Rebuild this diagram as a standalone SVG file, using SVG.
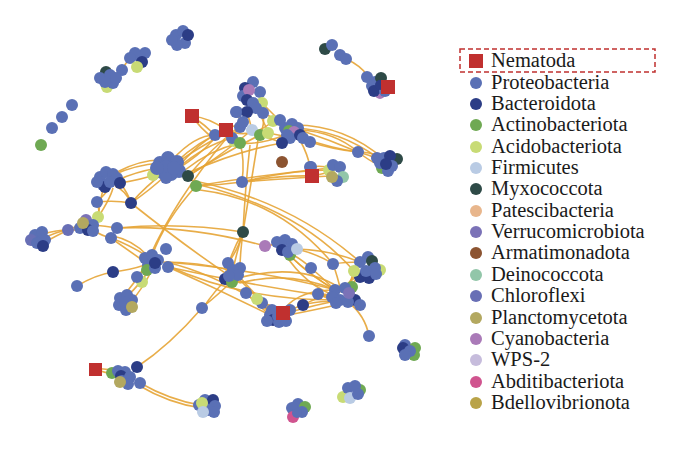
<svg xmlns="http://www.w3.org/2000/svg" width="680" height="461" viewBox="0 0 680 461">
<style>
.e{fill:none;stroke:#e6a435;stroke-width:1.6;opacity:.9}
circle{stroke:none}
.P{fill:#5a70b5}.B{fill:#2c3d86}.A{fill:#6fa953}.C{fill:#c8db75}.F{fill:#b9cbe4}.M{fill:#2e4a47}
.T{fill:#e8b68c}.V{fill:#7b72b7}.R{fill:#8c5431}.D{fill:#92c6a9}.K{fill:#686fb5}.L{fill:#b3a860}
.Y{fill:#aa7ab8}.W{fill:#c6bcdc}.X{fill:#d0548f}.O{fill:#b9a348}.N{fill:#c0302f}
.lg{font-family:"Liberation Serif","Times New Roman",serif;font-size:20.5px;fill:#1a1a1a}
</style>
<rect width="680" height="461" fill="#fff"/>
<g id="edges">
<path class="e" d="M175,163 Q200,140 226,130"/><path class="e" d="M178,168 Q205,145 232,138"/>
<path class="e" d="M180,165 Q205,135 237,125"/><path class="e" d="M172,160 Q195,135 215,135"/>
<path class="e" d="M185,170 Q210,150 240,143"/><path class="e" d="M188,176 Q210,150 243,123"/>
<path class="e" d="M188,176 Q215,160 252,130"/><path class="e" d="M188,176 Q220,155 260,135"/>
<path class="e" d="M190,172 Q240,150 282,143"/><path class="e" d="M176,170 Q200,155 213,140"/>
<path class="e" d="M192,116 Q205,125 215,135"/><path class="e" d="M192,116 Q200,128 213,138"/><path class="e" d="M192,116 Q210,118 226,130"/>
<path class="e" d="M160,163 Q135,165 113,175"/><path class="e" d="M158,168 Q135,172 118,180"/><path class="e" d="M165,172 Q140,180 120,183"/><path class="e" d="M160,160 Q140,160 117,172"/>
<path class="e" d="M115,186 Q125,190 131,203"/><path class="e" d="M120,183 Q128,193 131,203"/><path class="e" d="M110,188 Q104,195 97,202"/>
<path class="e" d="M97,202 Q115,200 131,203"/><path class="e" d="M131,203 Q150,190 165,176"/><path class="e" d="M131,203 Q190,250 240,283"/>
<path class="e" d="M98,217 Q100,200 104,185"/><path class="e" d="M93,225 Q110,200 113,188"/><path class="e" d="M98,217 Q100,210 97,202"/>
<path class="e" d="M93,225 Q105,226 117,228"/><path class="e" d="M93,230 Q102,236 111,238"/>
<path class="e" d="M68,230 Q55,232 45,238"/><path class="e" d="M68,230 Q56,236 45,242"/><path class="e" d="M68,230 Q57,230 43,234"/>
<path class="e" d="M68,230 Q78,226 83,223"/><path class="e" d="M68,230 Q78,230 86,230"/>
<path class="e" d="M117,228 Q180,222 243,232"/><path class="e" d="M117,228 Q190,225 265,246"/>
<path class="e" d="M111,238 Q130,245 150,258"/><path class="e" d="M113,236 Q133,240 148,256"/><path class="e" d="M108,236 Q128,250 145,262"/>
<path class="e" d="M166,262 Q220,275 278,315"/><path class="e" d="M168,267 Q220,290 270,315"/><path class="e" d="M160,262 Q200,262 228,270"/>
<path class="e" d="M168,267 Q250,285 332,297"/><path class="e" d="M166,262 Q260,270 336,290"/><path class="e" d="M166,265 Q240,300 335,300"/>
<path class="e" d="M150,268 Q140,285 127,296"/><path class="e" d="M153,268 Q142,290 132,300"/><path class="e" d="M146,266 Q135,282 122,298"/>
<path class="e" d="M113,272 Q130,270 145,265"/><path class="e" d="M77,286 Q95,275 113,272"/><path class="e" d="M137,277 Q142,270 147,268"/>
<path class="e" d="M250,145 Q245,190 243,232"/><path class="e" d="M258,140 Q250,190 243,232"/>
<path class="e" d="M225,140 Q175,200 150,256"/><path class="e" d="M196,186 Q165,220 152,256"/><path class="e" d="M213,140 Q160,170 131,203"/>
<path class="e" d="M300,140 Q308,155 310,167"/><path class="e" d="M311,167 Q320,165 333,168"/><path class="e" d="M312,176 Q322,174 330,172"/>
<path class="e" d="M242,182 Q290,170 333,170"/><path class="e" d="M242,182 Q290,178 330,176"/><path class="e" d="M196,186 Q260,175 330,168"/><path class="e" d="M242,182 Q245,160 240,143"/>
<path class="e" d="M196,186 Q220,185 242,182"/><path class="e" d="M242,182 Q280,175 312,176"/>
<path class="e" d="M300,130 Q330,140 358,152"/><path class="e" d="M300,130 Q335,132 358,152"/><path class="e" d="M303,138 Q330,148 358,152"/><path class="e" d="M310,142 Q335,150 358,152"/>
<path class="e" d="M358,152 Q370,155 380,160"/><path class="e" d="M358,152 Q368,160 382,167"/><path class="e" d="M358,152 Q370,152 378,156"/>
<path class="e" d="M295,128 Q340,130 378,158"/><path class="e" d="M295,125 Q345,125 385,160"/>
<path class="e" d="M200,190 Q280,200 333,264"/><path class="e" d="M190,180 Q290,200 360,262"/><path class="e" d="M200,185 Q300,210 354,271"/>
<path class="e" d="M243,232 Q238,250 228,263"/><path class="e" d="M243,232 Q236,255 233,270"/><path class="e" d="M243,232 Q240,255 240,268"/><path class="e" d="M243,232 Q232,250 225,275"/>
<path class="e" d="M228,278 Q215,290 203,308"/><path class="e" d="M233,280 Q218,295 205,305"/><path class="e" d="M202,308 Q170,345 137,367"/>
<path class="e" d="M238,275 Q255,295 272,310"/><path class="e" d="M240,280 Q260,300 270,315"/><path class="e" d="M246,293 Q258,305 270,315"/><path class="e" d="M257,300 Q265,308 272,312"/>
<path class="e" d="M240,283 Q290,270 335,290"/><path class="e" d="M238,278 Q300,262 340,288"/>
<path class="e" d="M292,254 Q305,262 311,268"/><path class="e" d="M297,249 Q320,255 333,264"/><path class="e" d="M288,254 Q310,275 335,290"/><path class="e" d="M290,256 Q315,280 340,292"/><path class="e" d="M285,254 Q305,285 336,296"/>
<path class="e" d="M297,249 Q330,250 360,262"/><path class="e" d="M311,268 Q325,280 335,290"/><path class="e" d="M333,264 Q338,278 340,288"/><path class="e" d="M333,264 Q345,262 360,262"/>
<path class="e" d="M360,270 Q350,280 345,288"/><path class="e" d="M365,272 Q352,282 348,290"/><path class="e" d="M358,275 Q348,283 340,292"/><path class="e" d="M354,271 Q350,280 350,290"/>
<path class="e" d="M318,294 Q325,293 332,297"/><path class="e" d="M318,294 Q327,298 336,302"/>
<path class="e" d="M303,305 Q320,300 336,302"/><path class="e" d="M303,305 Q320,296 335,293"/><path class="e" d="M290,310 Q297,307 303,305"/>
<path class="e" d="M290,312 Q315,305 340,300"/><path class="e" d="M288,315 Q315,310 345,303"/><path class="e" d="M285,308 Q300,290 335,290"/>
<path class="e" d="M348,302 Q365,315 369,336"/><path class="e" d="M262,303 Q272,305 280,310"/>
<path class="e" d="M265,246 Q275,244 282,245"/><path class="e" d="M332,45 Q328,47 325,49"/><path class="e" d="M346,59 Q360,65 368,76"/><path class="e" d="M340,55 Q344,58 346,59"/>
<path class="e" d="M95,369 Q105,368 118,372"/><path class="e" d="M95,369 Q108,374 112,373"/>
<path class="e" d="M140,383 Q170,400 200,405"/><path class="e" d="M138,385 Q170,404 202,408"/>
<path class="e" d="M130,58 Q125,64 122,70"/><path class="e" d="M122,70 Q115,75 110,78"/>
<path class="e" d="M237,112 Q240,122 243,123"/><path class="e" d="M247,112 Q250,122 252,130"/><path class="e" d="M263,113 Q265,125 260,135"/><path class="e" d="M263,113 Q272,118 280,120"/>
<path class="e" d="M252,103 Q262,115 268,133"/><path class="e" d="M262,103 Q275,115 285,128"/><path class="e" d="M256,108 Q240,120 232,138"/>
<path class="e" d="M268,133 Q280,135 290,138"/><path class="e" d="M260,135 Q275,140 282,143"/><path class="e" d="M240,143 Q260,145 285,135"/><path class="e" d="M226,130 Q250,140 272,122"/>
</g>
<g id="nodes">
<g id="t1"><circle class="P" cx="176" cy="35" r="6"/><circle class="P" cx="183" cy="31" r="6"/><circle class="P" cx="185" cy="43" r="6"/><circle class="P" cx="177" cy="45" r="6"/><circle class="P" cx="172" cy="40" r="6"/><circle class="B" cx="188" cy="35" r="6"/></g>
<g id="t2"><circle class="P" cx="145" cy="53" r="6"/><circle class="P" cx="135" cy="53" r="6"/><circle class="P" cx="140" cy="57" r="6"/><circle class="P" cx="130" cy="58" r="6"/><circle class="B" cx="142" cy="62" r="6"/><circle class="C" cx="137" cy="67" r="6"/><circle class="P" cx="122" cy="70" r="6"/>
<circle class="M" cx="106" cy="72" r="6"/><circle class="C" cx="107" cy="87" r="6"/><circle class="P" cx="100" cy="78" r="6"/><circle class="P" cx="110" cy="75" r="6"/><circle class="P" cx="113" cy="83" r="6"/><circle class="P" cx="105" cy="82" r="6"/><circle class="P" cx="116" cy="78" r="6"/></g>
<g id="d1"><circle class="P" cx="72" cy="105" r="6"/></g><g id="d2"><circle class="P" cx="62" cy="117" r="6"/></g><g id="d3"><circle class="P" cx="52" cy="128" r="6"/></g><g id="d4"><circle class="A" cx="41" cy="145" r="6"/></g>
<g id="t3"><circle class="M" cx="325" cy="49" r="6"/><circle class="P" cx="332" cy="45" r="6"/><circle class="P" cx="340" cy="55" r="6"/><circle class="P" cx="346" cy="59" r="6"/><circle class="P" cx="367" cy="77" r="6"/>
<circle class="Y" cx="380" cy="94" r="5"/><circle class="P" cx="375" cy="82" r="6"/><circle class="M" cx="381" cy="78" r="6"/><circle class="P" cx="378" cy="88" r="6"/><circle class="P" cx="372" cy="86" r="6"/><circle class="B" cx="374" cy="91" r="6"/><circle class="P" cx="385" cy="91" r="6"/><circle class="B" cx="380" cy="85" r="5"/></g>
<g id="nem1"><rect class="N" x="381" y="80" width="14" height="14"/></g>
<g id="u1"><circle class="P" cx="253" cy="82" r="6"/><circle class="B" cx="245" cy="88" r="6"/><circle class="P" cx="260" cy="92" r="6"/><circle class="P" cx="243" cy="96" r="6"/><circle class="Y" cx="249" cy="90" r="6"/><circle class="C" cx="262" cy="103" r="6"/><circle class="B" cx="247" cy="100" r="6"/><circle class="P" cx="253" cy="103" r="6"/><circle class="P" cx="256" cy="108" r="6"/>
<circle class="P" cx="237" cy="112" r="6"/><circle class="B" cx="247" cy="112" r="6"/><circle class="P" cx="263" cy="113" r="6"/></g>
<g id="u2"><circle class="P" cx="215" cy="135" r="6"/><circle class="C" cx="234" cy="141" r="6"/><circle class="P" cx="232" cy="138" r="6"/><circle class="A" cx="240" cy="143" r="6"/><circle class="P" cx="240" cy="127" r="6"/><circle class="P" cx="243" cy="122" r="6"/><circle class="F" cx="252" cy="130" r="6"/><circle class="A" cx="260" cy="135" r="6"/><circle class="C" cx="268" cy="133" r="6"/><circle class="C" cx="273" cy="121" r="6"/><circle class="P" cx="236" cy="112" r="6"/></g>
<g id="nem2"><rect class="N" x="219" y="123" width="14" height="14"/></g>
<g id="nem3"><rect class="N" x="185" y="109" width="14" height="14"/></g>
<g id="u3"><circle class="P" cx="280" cy="120" r="6"/><circle class="P" cx="285" cy="128" r="6"/><circle class="P" cx="292" cy="124" r="6"/><circle class="A" cx="289" cy="131" r="6"/><circle class="P" cx="298" cy="128" r="6"/><circle class="Y" cx="294" cy="132" r="6"/><circle class="P" cx="290" cy="138" r="6"/><circle class="B" cx="300" cy="135" r="6"/><circle class="P" cx="303" cy="138" r="6"/><circle class="P" cx="287" cy="135" r="6"/><circle class="B" cx="282" cy="143" r="6"/><circle class="P" cx="310" cy="142" r="6"/></g>
<g id="arm"><circle class="R" cx="282" cy="162" r="6"/></g>
<g id="n310"><circle class="P" cx="310" cy="167" r="6"/></g>
<g id="r1"><circle class="P" cx="358" cy="152" r="6"/><circle class="P" cx="377" cy="158" r="6"/><circle class="M" cx="397" cy="159" r="6"/><circle class="P" cx="384" cy="158" r="6"/><circle class="B" cx="390" cy="156" r="6"/><circle class="A" cx="382" cy="168" r="6"/><circle class="P" cx="392" cy="166" r="6"/><circle class="P" cx="380" cy="163" r="6"/><circle class="P" cx="388" cy="171" r="6"/><circle class="B" cx="386" cy="164" r="6"/></g>
<g id="c1"><circle class="C" cx="329" cy="170" r="6"/><circle class="P" cx="333" cy="165" r="6"/><circle class="P" cx="340" cy="167" r="6"/><circle class="D" cx="343" cy="177" r="6"/><circle class="P" cx="337" cy="181" r="6"/><circle class="L" cx="332" cy="177" r="6"/><circle class="P" cx="311" cy="167" r="6"/></g>
<g id="nem4"><rect class="N" x="305" y="169" width="14" height="14"/></g>
<g id="n242"><circle class="P" cx="242" cy="182" r="6"/></g>
<g id="l1"><circle class="P" cx="160" cy="163" r="7"/><circle class="P" cx="168" cy="158" r="7"/><circle class="P" cx="177" cy="162" r="7"/><circle class="P" cx="179" cy="171" r="7"/><circle class="P" cx="171" cy="174" r="7"/><circle class="P" cx="162" cy="172" r="7"/><circle class="P" cx="166" cy="167" r="7"/><circle class="P" cx="174" cy="168" r="7"/><circle class="C" cx="153" cy="175" r="6"/><circle class="P" cx="157" cy="168" r="7"/><circle class="P" cx="166" cy="178" r="6"/></g>
<g id="myx1"><circle class="M" cx="188" cy="176" r="6"/></g><g id="act1"><circle class="A" cx="196" cy="186" r="6"/></g>
<g id="l2"><circle class="P" cx="100" cy="177" r="6"/><circle class="P" cx="106" cy="172" r="6"/><circle class="P" cx="113" cy="174" r="6"/><circle class="P" cx="117" cy="178" r="6"/><circle class="P" cx="103" cy="185" r="6"/><circle class="B" cx="105" cy="187" r="6"/><circle class="P" cx="110" cy="182" r="6"/><circle class="P" cx="97" cy="182" r="6"/><circle class="B" cx="120" cy="183" r="6"/></g>
<g id="n97"><circle class="P" cx="97" cy="202" r="6"/></g><g id="n131"><circle class="B" cx="131" cy="203" r="6"/></g>
<g id="l3"><circle class="C" cx="98" cy="217" r="6"/><circle class="V" cx="86" cy="220" r="6"/><circle class="P" cx="80" cy="228" r="6"/><circle class="P" cx="93" cy="225" r="6"/><circle class="B" cx="88" cy="230" r="6"/><circle class="L" cx="83" cy="223" r="6"/><circle class="P" cx="93" cy="231" r="6"/><circle class="P" cx="117" cy="228" r="6"/><circle class="P" cx="111" cy="238" r="6"/></g>
<g id="n68"><circle class="K" cx="68" cy="230" r="6"/></g>
<g id="l4"><circle class="P" cx="35" cy="235" r="6"/><circle class="P" cx="42" cy="232" r="6"/><circle class="K" cx="31" cy="240" r="6"/><circle class="P" cx="45" cy="240" r="6"/><circle class="P" cx="37" cy="243" r="6"/><circle class="B" cx="43" cy="246" r="6"/></g>
<g id="l5"><circle class="P" cx="145" cy="258" r="6"/><circle class="P" cx="152" cy="255" r="6"/><circle class="P" cx="158" cy="260" r="6"/><circle class="P" cx="148" cy="265" r="6"/><circle class="A" cx="147" cy="270" r="6"/><circle class="P" cx="155" cy="268" r="6"/><circle class="B" cx="155" cy="263" r="6"/><circle class="P" cx="166" cy="249" r="6"/><circle class="P" cx="168" cy="267" r="6"/><circle class="C" cx="142" cy="282" r="6"/><circle class="P" cx="137" cy="277" r="6"/></g>
<g id="n113"><circle class="B" cx="113" cy="272" r="6"/></g><g id="n77"><circle class="P" cx="77" cy="286" r="6"/></g>
<g id="l6"><circle class="P" cx="120" cy="298" r="6"/><circle class="P" cx="127" cy="295" r="6"/><circle class="P" cx="132" cy="300" r="6"/><circle class="P" cx="119" cy="305" r="6"/><circle class="P" cx="126" cy="310" r="6"/><circle class="P" cx="125" cy="302" r="6"/><circle class="L" cx="132" cy="307" r="6"/></g>
<g id="n202"><circle class="P" cx="202" cy="308" r="6"/></g>
<g id="lc1"><circle class="P" cx="228" cy="263" r="6"/><circle class="P" cx="240" cy="268" r="6"/><circle class="P" cx="233" cy="270" r="6"/><circle class="B" cx="225" cy="279" r="6"/><circle class="A" cx="232" cy="282" r="6"/><circle class="P" cx="238" cy="275" r="6"/><circle class="P" cx="229" cy="276" r="6"/></g>
<g id="myx2"><circle class="M" cx="243" cy="232" r="6"/></g>
<g id="lc2"><circle class="Y" cx="265" cy="246" r="6"/><circle class="P" cx="277" cy="242" r="6"/><circle class="P" cx="285" cy="240" r="6"/><circle class="P" cx="292" cy="244" r="6"/><circle class="A" cx="290" cy="255" r="6"/><circle class="B" cx="282" cy="250" r="6"/><circle class="P" cx="288" cy="252" r="6"/><circle class="F" cx="297" cy="249" r="6"/></g>
<g id="n311"><circle class="P" cx="311" cy="268" r="6"/></g><g id="n333"><circle class="P" cx="333" cy="264" r="6"/></g>
<g id="lc3"><circle class="P" cx="360" cy="262" r="6"/><circle class="P" cx="368" cy="257" r="6"/><circle class="M" cx="372" cy="261" r="6"/><circle class="C" cx="380" cy="270" r="6"/><circle class="P" cx="375" cy="268" r="6"/><circle class="B" cx="360" cy="277" r="6"/><circle class="B" cx="369" cy="278" r="6"/><circle class="P" cx="366" cy="271" r="6"/><circle class="P" cx="376" cy="274" r="6"/><circle class="C" cx="354" cy="271" r="6"/></g>
<g id="lc4"><circle class="P" cx="335" cy="290" r="6"/><circle class="A" cx="352" cy="287" r="6"/><circle class="P" cx="345" cy="288" r="6"/><circle class="P" cx="332" cy="297" r="6"/><circle class="P" cx="340" cy="300" r="6"/><circle class="B" cx="355" cy="300" r="6"/><circle class="P" cx="348" cy="302" r="6"/><circle class="P" cx="336" cy="303" r="6"/><circle class="P" cx="360" cy="305" r="6"/><circle class="V" cx="349" cy="293" r="6"/></g>
<g id="n318"><circle class="P" cx="318" cy="294" r="6"/></g><g id="n303"><circle class="B" cx="303" cy="305" r="6"/></g>
<g id="lc5"><circle class="P" cx="272" cy="310" r="6"/><circle class="P" cx="290" cy="310" r="6"/><circle class="P" cx="270" cy="315" r="6"/><circle class="B" cx="273" cy="320" r="6"/><circle class="P" cx="267" cy="321" r="6"/><circle class="P" cx="279" cy="322" r="6"/><circle class="P" cx="286" cy="321" r="6"/><circle class="P" cx="278" cy="316" r="6"/></g>
<g id="nem5"><rect class="N" x="276" y="306" width="14" height="14"/></g>
<g id="n246"><circle class="P" cx="246" cy="293" r="6"/></g><g id="n262"><circle class="P" cx="262" cy="303" r="6"/></g><g id="n257"><circle class="C" cx="257" cy="299" r="6"/></g>
<g id="n369"><circle class="P" cx="369" cy="336" r="6"/></g>
<g id="br"><circle class="P" cx="405" cy="345" r="6"/><circle class="B" cx="403" cy="348" r="6"/><circle class="A" cx="415" cy="348" r="6"/><circle class="A" cx="414" cy="355" r="6"/><circle class="P" cx="410" cy="351" r="6"/><circle class="P" cx="405" cy="355" r="6"/></g>
<g id="nem6"><rect class="N" x="89" y="363" width="13" height="13"/></g>
<g id="bl1"><circle class="A" cx="112" cy="373" r="6"/><circle class="P" cx="118" cy="371" r="6"/><circle class="P" cx="125" cy="372" r="6"/><circle class="B" cx="121" cy="376" r="6"/><circle class="P" cx="130" cy="377" r="6"/><circle class="P" cx="122" cy="381" r="6"/><circle class="P" cx="128" cy="384" r="6"/><circle class="L" cx="120" cy="382" r="6"/><circle class="B" cx="137" cy="367" r="6"/><circle class="P" cx="140" cy="383" r="6"/></g>
<g id="bl2"><circle class="P" cx="205" cy="400" r="6"/><circle class="B" cx="213" cy="400" r="6"/><circle class="P" cx="215" cy="406" r="6"/><circle class="P" cx="208" cy="410" r="6"/><circle class="P" cx="214" cy="412" r="6"/><circle class="P" cx="199" cy="405" r="6"/><circle class="C" cx="202" cy="403" r="6"/><circle class="F" cx="203" cy="412" r="6"/></g>
<g id="bl3"><circle class="P" cx="298" cy="404" r="6"/><circle class="A" cx="305" cy="407" r="6"/><circle class="P" cx="292" cy="408" r="6"/><circle class="P" cx="302" cy="412" r="6"/><circle class="X" cx="293" cy="417" r="6"/><circle class="P" cx="297" cy="413" r="5"/></g>
<g id="bl4"><circle class="C" cx="343" cy="397" r="6"/><circle class="A" cx="360" cy="390" r="6"/><circle class="P" cx="348" cy="388" r="6"/><circle class="P" cx="355" cy="386" r="6"/><circle class="F" cx="350" cy="398" r="6"/><circle class="P" cx="358" cy="394" r="6"/></g>
</g>
<g id="legend">
<rect x="460" y="49" width="195" height="23" fill="none" stroke="#c0302f" stroke-width="1.5" stroke-dasharray="5,3"/>
<rect class="N" x="469" y="54" width="14" height="14"/>
<circle class="P" cx="476" cy="83" r="6"/><circle class="B" cx="476" cy="104" r="6"/><circle class="A" cx="476" cy="125" r="6"/><circle class="C" cx="476" cy="147" r="6"/>
<circle class="F" cx="476" cy="168" r="6"/><circle class="M" cx="476" cy="189" r="6"/><circle class="T" cx="476" cy="211" r="6"/><circle class="V" cx="476" cy="232" r="6"/>
<circle class="R" cx="476" cy="253" r="6"/><circle class="D" cx="476" cy="275" r="6"/><circle class="K" cx="476" cy="296" r="6"/><circle class="L" cx="476" cy="318" r="6"/>
<circle class="Y" cx="476" cy="339" r="6"/><circle class="W" cx="476" cy="360" r="6"/><circle class="X" cx="476" cy="382" r="6"/><circle class="O" cx="476" cy="403" r="6"/>
<text class="lg" x="491" y="67">Nematoda</text>
<text class="lg" x="491" y="89">Proteobacteria</text>
<text class="lg" x="491" y="110">Bacteroidota</text>
<text class="lg" x="491" y="131">Actinobacteriota</text>
<text class="lg" x="491" y="153">Acidobacteriota</text>
<text class="lg" x="491" y="174">Firmicutes</text>
<text class="lg" x="491" y="195">Myxococcota</text>
<text class="lg" x="491" y="217">Patescibacteria</text>
<text class="lg" x="491" y="238">Verrucomicrobiota</text>
<text class="lg" x="491" y="259">Armatimonadota</text>
<text class="lg" x="491" y="281">Deinococcota</text>
<text class="lg" x="491" y="302">Chloroflexi</text>
<text class="lg" x="491" y="324">Planctomycetota</text>
<text class="lg" x="491" y="345">Cyanobacteria</text>
<text class="lg" x="491" y="366">WPS-2</text>
<text class="lg" x="491" y="388">Abditibacteriota</text>
<text class="lg" x="491" y="409">Bdellovibrionota</text>
</g>
</svg>
